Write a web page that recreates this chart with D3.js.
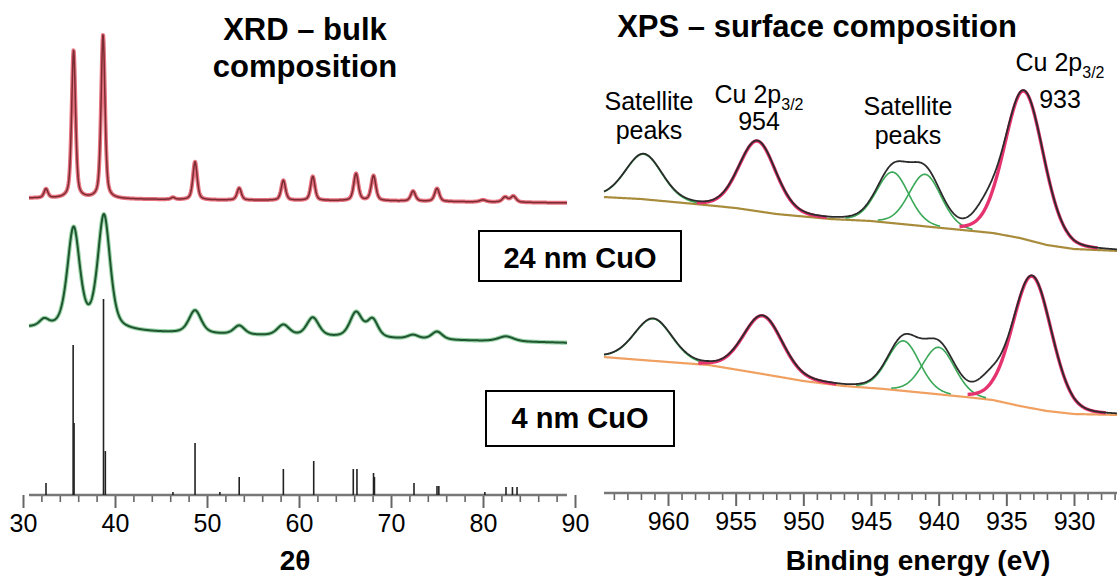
<!DOCTYPE html>
<html>
<head>
<meta charset="UTF-8">
<script src="https://cdn.jsdelivr.net/npm/d3@7"></script>
<style>
body { margin: 0; background: #fff; }
svg text { font-family: Arial, "Liberation Sans", sans-serif; fill: #000; }
.ttl { font-weight: bold; font-size: 31px; }
.boxlbl { font-weight: bold; font-size: 29px; }
.axttl { font-weight: bold; font-size: 28px; }
.note { font-size: 25px; }
.tick text { font-size: 25px; }
</style>
</head>
<body>
<svg id="chart" width="1120" height="580"></svg>
<script>
// ---- data ----
var xrdTicks = [30, 40, 50, 60, 70, 80, 90];
var xpsTicks = [960, 955, 950, 945, 940, 935, 930];

// CuO reference pattern: [2theta, relative intensity]
var refSticks = [[32.5, 6], [35.45, 75], [35.55, 36], [38.75, 98], [38.95, 22], [46.3, 1.5],
  [48.7, 26], [51.4, 1.5], [53.5, 9], [58.3, 13], [61.6, 17], [65.9, 13], [66.3, 13],
  [68.1, 11], [68.2, 9], [72.5, 6], [75.0, 4.5], [75.2, 4.5], [80.2, 1.5], [82.5, 4],
  [83.2, 4], [83.7, 4]];

// 24 nm CuO XRD: background [2theta, a.u.] and peaks [2theta, height, fwhm]
var xrd24Base = [[30, 12], [50, 10], [70, 9], [90, 7]];
var xrd24Peaks = [[32.5, 9, 0.5], [35.5, 148, 0.5], [38.7, 164, 0.5], [46.3, 2, 0.5],
  [48.7, 38, 0.55], [53.5, 12, 0.55], [58.3, 20, 0.55], [61.5, 24, 0.55], [66.2, 27, 0.6],
  [68.1, 25, 0.6], [72.4, 10, 0.6], [75.0, 13, 0.6], [80.0, 2, 0.8], [82.4, 5, 0.7], [83.3, 6, 0.7]];

// 4 nm CuO XRD
var xrd4Base = [[30, 22], [45, 17], [60, 13], [75, 10], [90, 7]];
var xrd4Peaks = [[32.3, 7, 1.2], [35.5, 100, 1.6], [38.8, 114, 1.6], [48.7, 23, 1.6],
  [53.5, 9, 1.4], [58.3, 11, 1.6], [61.5, 19, 1.6], [66.2, 25, 1.6], [68.0, 18, 1.4],
  [72.4, 4, 1.4], [75.0, 8, 1.4], [82.5, 5, 2.0]];

// XPS Cu 2p, 24 nm: background [eV, a.u.], components [eV, height, fwhm]
var xpsTopBase = [[964.8, 63], [962, 61], [958, 56], [955, 52], [952, 46], [948, 41], [945, 39],
  [942, 35], [939, 31], [936, 27], [934, 22], [932, 15], [930, 11], [926.6, 9]];
var xpsTopMain = [[953.4, 70, 3.2], [933.7, 148, 3.4]];
var xpsTopSat = [[961.8, 45, 3.2], [943.4, 51, 2.8], [941.0, 52, 2.8]];
var xpsTopExtra = [[936.6, 14, 2.1]];

// XPS Cu 2p, 4 nm
var xpsBotBase = [[964.8, 63], [960, 58], [957, 55], [953, 46], [950, 39], [947, 34], [944, 31],
  [941, 27], [938, 23], [936, 20], [934, 14], [932, 9], [930, 6], [926.6, 5]];
var xpsBotMain = [[953.0, 58, 3.4], [933.1, 132, 3.4]];
var xpsBotSat = [[961.1, 42, 3.3], [942.6, 50, 2.8], [940.0, 47, 2.8]];
var xpsBotExtra = [[936.3, 14, 2.1]];

// ---- drawing ----
var svg = d3.select('#chart');

function pv(x, p, eta) {
  var d = (x - p[0]) / p[2];
  var g = Math.exp(-4 * Math.LN2 * d * d);
  var l = 1 / (1 + 4 * d * d);
  return p[1] * (eta * l + (1 - eta) * g);
}
function profile(lo, hi, n, base, peaks, eta) {
  var bl = d3.scaleLinear().domain(base.map(function(b) { return b[0]; }))
    .range(base.map(function(b) { return b[1]; }));
  return d3.range(n + 1).map(function(i) {
    var x = lo + (hi - lo) * i / n;
    var v = bl(x);
    peaks.forEach(function(p) { v += pv(x, p, eta); });
    return [x, v];
  });
}
function drawAxis(x, major, minor, x0, x1, yAx) {
  var g = svg.append('g').attr('transform', 'translate(0,' + yAx + ')');
  g.append('g').call(d3.axisBottom(x).tickValues(minor).tickSize(7).tickFormat(''))
    .call(function(s) { s.select('.domain').remove(); s.selectAll('line').attr('stroke', '#666').attr('stroke-width', 1.6); });
  g.append('g').call(d3.axisBottom(x).tickValues(major).tickSize(13).tickFormat(d3.format('d')))
    .call(function(s) {
      s.select('.domain').remove();
      s.selectAll('line').attr('stroke', '#666').attr('stroke-width', 2);
      s.selectAll('text').attr('y', 37).attr('dy', 0).attr('fill', '#000');
      s.attr('font-family', null).attr('font-size', null);
    });
  g.append('line').attr('x1', x0).attr('x2', x1).attr('y1', 0).attr('y2', 0)
    .attr('stroke', '#777').attr('stroke-width', 2.5);
}

// XRD panel
var xX = d3.scaleLinear().domain([30, 90]).range([23, 575]);
var yStick = d3.scaleLinear().domain([0, 100]).range([495, 295]);
var yRed = d3.scaleLinear().domain([0, 180]).range([210, 30]);
var yGrn = d3.scaleLinear().domain([0, 180]).range([350, 170]);
var xLo = xX.invert(29), xHi = xX.invert(567);

var xrdMinor = d3.range(32, 90, 2).filter(function(v) { return v % 10 !== 0; });
drawAxis(xX, xrdTicks, xrdMinor, 29, 567, 495);

svg.append('g').selectAll('line').data(refSticks).join('line')
  .attr('x1', function(d) { return xX(d[0]); }).attr('x2', function(d) { return xX(d[0]); })
  .attr('y1', yStick(0)).attr('y2', function(d) { return yStick(d[1]); })
  .attr('stroke', '#222').attr('stroke-width', 1.6);

function trace(data, x, y, halo, core, hw, cw, op) {
  var line = d3.line().x(function(d) { return x(d[0]); }).y(function(d) { return y(d[1]); });
  svg.append('path').datum(data).attr('d', line).attr('fill', 'none')
    .attr('stroke', halo).attr('stroke-width', hw).attr('stroke-opacity', op).attr('stroke-linejoin', 'round');
  if (core) svg.append('path').datum(data).attr('d', line).attr('fill', 'none')
    .attr('stroke', core).attr('stroke-width', cw).attr('stroke-linejoin', 'round');
}
trace(profile(xLo, xHi, 1500, xrd24Base, xrd24Peaks, 0.5), xX, yRed, '#e0505f', '#7b2b33', 4, 1.5, 0.8);
trace(profile(xLo, xHi, 1500, xrd4Base, xrd4Peaks, 0.5), xX, yGrn, '#58b86c', '#1f5530', 4.2, 2, 0.6);

// XPS panel
var xE = d3.scaleLinear().domain([960, 930]).range([668, 1074]);
var yTop = d3.scaleLinear().domain([0, 200]).range([260, 60]);
var yBot = d3.scaleLinear().domain([0, 200]).range([420, 220]);
var eLo = xE.invert(604), eHi = xE.invert(1117);
var xpsMinor = d3.range(964, 926, -1).filter(function(v) { return v % 5 !== 0; });
drawAxis(xE, xpsTicks, xpsMinor, 604, 1117, 493);

function xpsSpectrum(base, main, sat, extra, y, baseCol) {
  var eta = 0.15;
  var all = main.concat(sat, extra);
  trace(profile(eLo, eHi, 800, base, [], eta), xE, y, baseCol, null, 2.2, 0, 1);
  sat.forEach(function(p) {
    var lo = Math.min(eLo, p[0] + 1.25 * p[2]), hi = Math.max(eHi, p[0] - 1.25 * p[2]);
    trace(profile(lo, hi, 200, base, [p], eta), xE, y, '#3aa857', null, 1.6, 0, 1);
  });
  main.forEach(function(p) {
    var lo = Math.min(eLo, p[0] + 1.4 * p[2]), hi = Math.max(eHi, p[0] - 1.6 * p[2]);
    trace(profile(lo, hi, 300, base, main, eta), xE, y, '#e5336f', null, 3.4, 0, 1);
  });
  trace(profile(eLo, eHi, 800, base, all, eta), xE, y, '#2b2b2b', null, 1.8, 0, 1);
}
xpsSpectrum(xpsTopBase, xpsTopMain, xpsTopSat, xpsTopExtra, yTop, '#a88c3c');
xpsSpectrum(xpsBotBase, xpsBotMain, xpsBotSat, xpsBotExtra, yBot, '#f0a060');

// titles and labels
var t1 = svg.append('text').attr('class', 'ttl').attr('text-anchor', 'middle');
t1.append('tspan').attr('x', 305).attr('y', 40).text('XRD \u2013 bulk');
t1.append('tspan').attr('x', 305).attr('y', 77).text('composition');
svg.append('text').attr('class', 'ttl').attr('text-anchor', 'middle').attr('x', 817).attr('y', 37)
  .text('XPS \u2013 surface composition');

function note(x, y, s) {
  svg.append('text').attr('class', 'note').attr('text-anchor', 'middle').attr('x', x).attr('y', y).text(s);
}
note(649, 110, 'Satellite'); note(649, 139, 'peaks');
note(908, 115, 'Satellite'); note(908, 144, 'peaks');
function cuLabel(x, y, val, yv) {
  var t = svg.append('text').attr('class', 'note').attr('text-anchor', 'middle').attr('x', x).attr('y', y);
  t.append('tspan').text('Cu 2p');
  t.append('tspan').attr('font-size', 16).attr('dy', 7).text('3/2');
  note(x, yv, val);
}
cuLabel(759, 103, '954', 130);
cuLabel(1060, 71, '933', 108);

function boxLabel(x, y, w, h, s, ty) {
  svg.append('rect').attr('x', x).attr('y', y).attr('width', w).attr('height', h)
    .attr('fill', '#fff').attr('stroke', '#000').attr('stroke-width', 2);
  svg.append('text').attr('class', 'boxlbl').attr('text-anchor', 'middle').attr('x', x + w / 2).attr('y', ty).text(s);
}
boxLabel(479, 231, 202, 50, '24 nm CuO', 268);
boxLabel(486, 391, 188, 55, '4 nm CuO', 428);

svg.append('text').attr('class', 'axttl').attr('text-anchor', 'middle').attr('x', 295).attr('y', 570).text('2\u03b8');
svg.append('text').attr('class', 'axttl').attr('text-anchor', 'middle').attr('x', 918).attr('y', 570).text('Binding energy (eV)');
</script>
</body>
</html>
